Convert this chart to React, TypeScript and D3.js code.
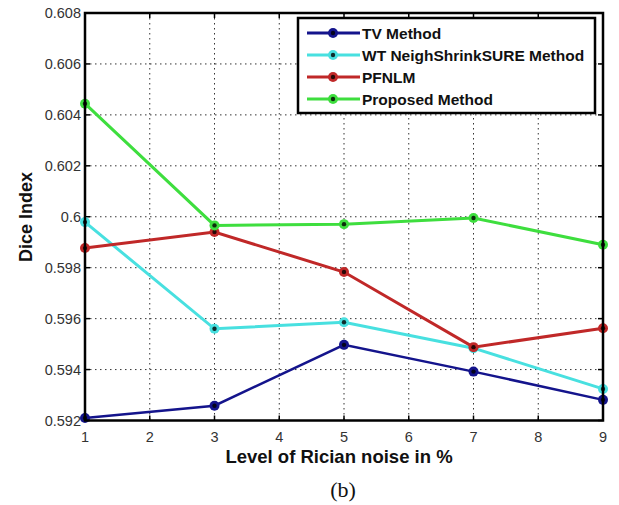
import React from "react";
import * as d3 from "d3";

const noise = [1, 3, 5, 7, 9];
const tvMethod = [0.5921, 0.59258, 0.59497, 0.59392, 0.59281];
const wtMethod = [0.59979, 0.5956, 0.59586, 0.59484, 0.59324];
const pfnlm = [0.59877, 0.5994, 0.59783, 0.59488, 0.59562];
const proposed = [0.60444, 0.59966, 0.59971, 0.59995, 0.5989];
const seriesNames = ["TV Method", "WT NeighShrinkSURE Method", "PFNLM", "Proposed Method"];
const seriesColors = ["#14148c", "#48e0e0", "#c02828", "#3ede3e"];
const xTicks = [1, 2, 3, 4, 5, 6, 7, 8, 9];
const yTicks = [0.592, 0.594, 0.596, 0.598, 0.6, 0.602, 0.604, 0.606, 0.608];
const yTickLabels = ["0.592", "0.594", "0.596", "0.598", "0.6", "0.602", "0.604", "0.606", "0.608"];

export default function App() {
  const W = 619, H = 505;
  const L = 85, R = 603, T = 13, B = 420.5;
  const x = d3.scaleLinear().domain([1, 9]).range([L, R]);
  const y = d3.scaleLinear().domain([0.592, 0.608]).range([B, T]);
  const all = [tvMethod, wtMethod, pfnlm, proposed];
  const line = d3.line<number>().x((_, i) => x(noise[i])).y((d) => y(d));
  const font = "Arial, 'Liberation Sans', sans-serif";
  const legX = 298, legY = 18, legW = 297, legH = 95;
  const rowYs = [33, 55, 77, 99];
  return (
    <svg width={W} height={H} style={{ position: "absolute", left: 0, top: 0, background: "#fff" }}>
      <rect x={0} y={0} width={W} height={H} fill="#fff" />
      {xTicks.slice(1, -1).map((t) => (
        <line key={"gx" + t} x1={x(t)} x2={x(t)} y1={T} y2={B} stroke="#333" strokeWidth={1} strokeDasharray="1.5,3.5" />
      ))}
      {yTicks.slice(1, -1).map((t) => (
        <line key={"gy" + t} x1={L} x2={R} y1={y(t)} y2={y(t)} stroke="#333" strokeWidth={1} strokeDasharray="1.5,3.5" />
      ))}
      {xTicks.map((t) => (
        <g key={"tx" + t}>
          <line x1={x(t)} x2={x(t)} y1={B} y2={B - 5} stroke="#000" strokeWidth={1.5} />
          <line x1={x(t)} x2={x(t)} y1={T} y2={T + 5} stroke="#000" strokeWidth={1.5} />
          <text x={x(t)} y={B + 21} textAnchor="middle" fontFamily={font} fontSize={14.5} fill="#333">{t}</text>
        </g>
      ))}
      {yTicks.map((t, i) => (
        <g key={"ty" + t}>
          <line x1={L} x2={L + 5} y1={y(t)} y2={y(t)} stroke="#000" strokeWidth={1.5} />
          <line x1={R} x2={R - 5} y1={y(t)} y2={y(t)} stroke="#000" strokeWidth={1.5} />
          <text x={L - 4} y={y(t) + 5} textAnchor="end" fontFamily={font} fontSize={14.5} fill="#333">{yTickLabels[i]}</text>
        </g>
      ))}
      {all.map((vals, si) => (
        <g key={"s" + si}>
          <path d={line(vals) || ""} fill="none" stroke={seriesColors[si]} strokeWidth={si === 0 ? 2.5 : 3} />
          {vals.map((v, i) => (
            <g key={i}>
              <circle cx={x(noise[i])} cy={y(v)} r={5} fill={seriesColors[si]} />
              <circle cx={x(noise[i])} cy={y(v)} r={2.2} fill="#000" opacity={0.8} />
            </g>
          ))}
        </g>
      ))}
      <rect x={L} y={T} width={R - L} height={B - T} fill="none" stroke="#000" strokeWidth={2.5} />
      <rect x={legX} y={legY} width={legW} height={legH} fill="#fff" stroke="#000" strokeWidth={2.5} />
      {seriesNames.map((n, i) => (
        <g key={"l" + i}>
          <line x1={307} x2={360} y1={rowYs[i]} y2={rowYs[i]} stroke={seriesColors[i]} strokeWidth={3} />
          <circle cx={333} cy={rowYs[i]} r={5} fill={seriesColors[i]} />
          <circle cx={333} cy={rowYs[i]} r={2.2} fill="#000" opacity={0.8} />
          <text x={362} y={rowYs[i] + 5.5} fontFamily={font} fontSize={15.5} fontWeight="bold" fill="#111">{n}</text>
        </g>
      ))}
      <text x={339} y={463} textAnchor="middle" fontFamily={font} fontSize={18.5} fontWeight="bold" fill="#111">Level of Rician noise in %</text>
      <text transform={`translate(32,217) rotate(-90)`} textAnchor="middle" fontFamily={font} fontSize={18} fontWeight="bold" fill="#111">Dice Index</text>
      <text x={343} y={497} textAnchor="middle" fontFamily="'Liberation Serif', 'Times New Roman', serif" fontSize={22} fill="#111">(b)</text>
    </svg>
  );
}
